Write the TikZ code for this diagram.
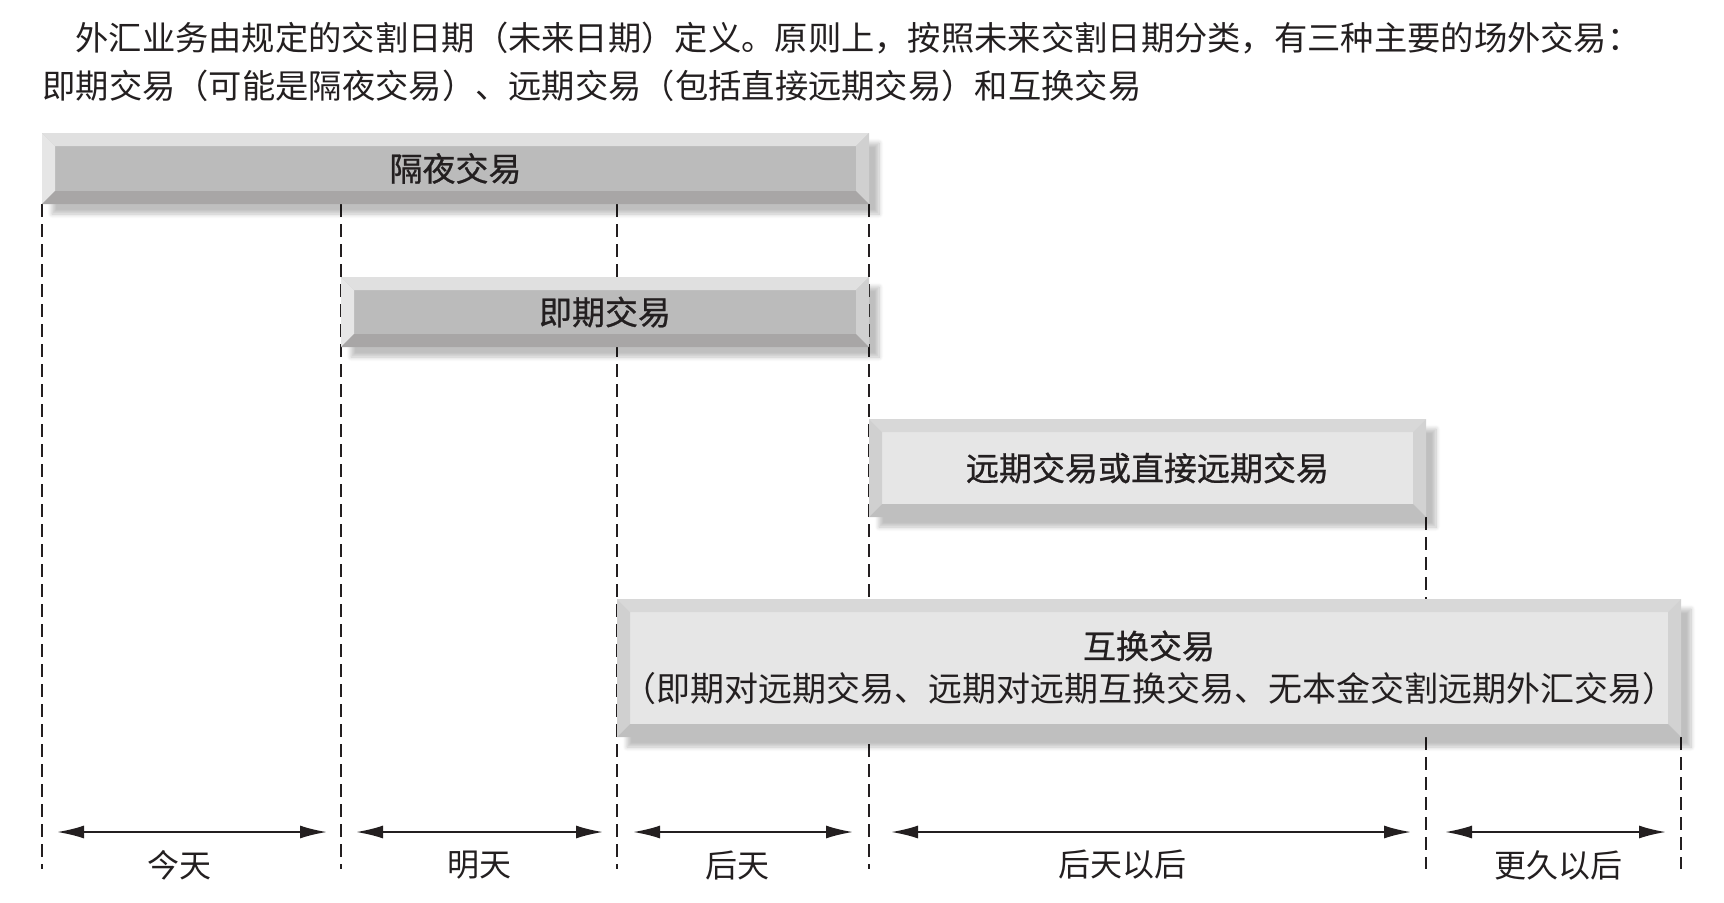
\documentclass[tikz,border=0pt]{standalone}
\usepackage{fontspec}
\setmainfont{Noto Sans CJK SC}
\newfontfamily\titlefont{Noto Sans CJK SC}[FakeBold=0.8]
\usetikzlibrary{arrows.meta,shadows.blur}

\definecolor{darkface}{HTML}{BBBBBB}
\definecolor{darktop}{HTML}{E0E0E0}
\definecolor{darkleft}{HTML}{E6E6E6}
\definecolor{darkright}{HTML}{D0D0D0}
\definecolor{darkbottom}{HTML}{A8A6A6}
\definecolor{lightface}{HTML}{E6E6E6}
\definecolor{lighttop}{HTML}{D8D8D8}
\definecolor{lightleft}{HTML}{D0D0D0}
\definecolor{lightright}{HTML}{D2D2D2}
\definecolor{lightbottom}{HTML}{BFBFBF}
\definecolor{inkline}{HTML}{231F20}

\pgfdeclarelayer{background}
\pgfsetlayers{background,main}

\tikzset{
  bevel/.style n args={5}{fill=#1, path picture={
      \fill[#2] (path picture bounding box.north west) -- (path picture bounding box.north east)
        -- ([shift={(-6.5pt,-6.5pt)}]path picture bounding box.north east)
        -- ([shift={(6.5pt,-6.5pt)}]path picture bounding box.north west) -- cycle;
      \fill[#3] (path picture bounding box.north west) -- ([shift={(6.5pt,-6.5pt)}]path picture bounding box.north west)
        -- ([shift={(6.5pt,6.5pt)}]path picture bounding box.south west)
        -- (path picture bounding box.south west) -- cycle;
      \fill[#4] (path picture bounding box.north east) -- ([shift={(-6.5pt,-6.5pt)}]path picture bounding box.north east)
        -- ([shift={(-6.5pt,6.5pt)}]path picture bounding box.south east)
        -- (path picture bounding box.south east) -- cycle;
      \fill[#5] (path picture bounding box.south west) -- (path picture bounding box.south east)
        -- ([shift={(-6.5pt,6.5pt)}]path picture bounding box.south east)
        -- ([shift={(6.5pt,6.5pt)}]path picture bounding box.south west) -- cycle;
    }},
  barbox/.style={inner sep=0pt, text=inkline,
    font=\fontsize{16.5}{21.5}\selectfont,
    blur shadow={shadow xshift=5pt, shadow yshift=-5pt, shadow opacity=25, shadow blur steps=8}},
  darkbar/.style={barbox, bevel={darkface}{darktop}{darkleft}{darkright}{darkbottom}},
  lightbar/.style={barbox, bevel={lightface}{lighttop}{lightleft}{lightright}{lightbottom}},
  headtext/.style={inner sep=0pt, anchor=west, text=inkline, font=\fontsize{16.65}{20}\selectfont},
  daytext/.style={inner sep=0pt, text=inkline, font=\fontsize{16}{20}\selectfont},
  tickline/.style={draw=inkline, line width=1pt, dash pattern=on 6.5pt off 3.5pt},
  dayspan/.style={draw=inkline, line width=1pt,
    {Latex[length=13.5pt,width=6.5pt]}-{Latex[length=13.5pt,width=6.5pt]}}
}

\begin{document}
\begin{tikzpicture}[x=0.5pt,y=-0.5pt]
  \useasboundingbox (0,0) rectangle (1724,902);

  % intro text
  \node[headtext] (intro1) at (75,38) {外汇业务由规定的交割日期（未来日期）定义。原则上，按照未来交割日期分类，有三种主要的场外交易：};
  \node[headtext] (intro2) at (42,86) {即期交易（可能是隔夜交易）、远期交易（包括直接远期交易）和互换交易};

  % trade bars
  \node[darkbar, minimum width=413.5pt, minimum height=35.5pt] (overnight) at (455.5,168.5) {\titlefont 隔夜交易};
  \node[darkbar, minimum width=264pt, minimum height=35pt] (spot) at (605,312) {\titlefont 即期交易};
  \node[lightbar, minimum width=278.5pt, minimum height=49pt] (forward) at (1147.5,468) {\titlefont 远期交易或直接远期交易};
  \node[lightbar, minimum width=532pt, minimum height=69pt, align=center] (swap) at (1149,668)
    {\raisebox{4pt}{\titlefont 互换交易}\\[-2pt]{\fontsize{17}{21.5}\selectfont\raisebox{2pt}{（即期对远期交易、远期对远期互换交易、无本金交割远期外汇交易）}}};

  \coordinate (base) at (0,869);

  % day boundaries
  \begin{pgfonlayer}{background}
    \draw[tickline] (overnight.south west) -- (overnight.south west |- base);
    \draw[tickline] (overnight.south -| spot.west) -- (spot.west |- base);
    \draw[tickline] (overnight.south -| swap.west) -- (swap.west |- base);
    \draw[tickline] (overnight.south east) -- (overnight.south east |- base);
    \draw[tickline] (forward.south east) -- (forward.south east |- base);
    \draw[tickline] (swap.south east) -- (swap.south east |- base);
  \end{pgfonlayer}

  % day spans
  \coordinate (s1a) at (57,832);   \coordinate (s1b) at (327,832);
  \coordinate (s2a) at (356,832);  \coordinate (s2b) at (603,832);
  \coordinate (s3a) at (633,832);  \coordinate (s3b) at (853,832);
  \coordinate (s4a) at (891,832);  \coordinate (s4b) at (1411,832);
  \coordinate (s5a) at (1445,832); \coordinate (s5b) at (1666,832);

  \draw[dayspan] (s1a) -- (s1b);
  \draw[dayspan] (s2a) -- (s2b);
  \draw[dayspan] (s3a) -- (s3b);
  \draw[dayspan] (s4a) -- (s4b);
  \draw[dayspan] (s5a) -- (s5b);

  \begin{scope}[every node/.style={daytext}]
    \node (today)    at (179,865)  {今天};
    \node (tomorrow) at (479,865)  {明天};
    \node (dayafter) at (737,865)  {后天};
    \node (later)    at (1122,865) {后天以后};
    \node (muchlater) at (1558,865) {更久以后};
  \end{scope}

\end{tikzpicture}
\end{document}
